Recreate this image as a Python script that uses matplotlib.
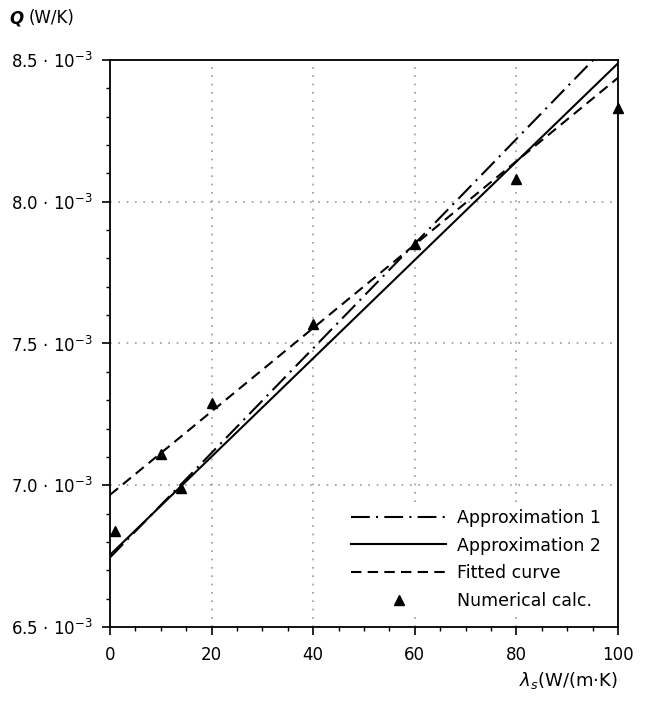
import numpy as np
import matplotlib.pyplot as plt
from matplotlib.ticker import MultipleLocator, FixedLocator

plt.rcParams['font.family'] = ['DejaVu Sans']

# numerical calculation points
lam_num = [1, 10, 14, 20, 40, 60, 80, 100]
q_num = [6.84e-3, 7.11e-3, 6.99e-3, 7.29e-3, 7.57e-3, 7.85e-3, 8.08e-3, 8.33e-3]

# line end points (x = 0 and x = 100)
lam_line = [0, 100]
q_approx1 = [6.745e-3, 8.59e-3]
q_approx2 = [6.754e-3, 8.488e-3]
q_fitted = [6.966e-3, 8.437e-3]

y_ticks = [6.5e-3, 7.0e-3, 7.5e-3, 8.0e-3, 8.5e-3]
y_ticklabels = ['6.5 · 10$^{-3}$', '7.0 · 10$^{-3}$', '7.5 · 10$^{-3}$',
                '8.0 · 10$^{-3}$', '8.5 · 10$^{-3}$']

fig = plt.figure(figsize=(6.45, 7.01), dpi=100)
ax = fig.add_axes([0.1705, 0.1056, 0.7875, 0.8088])

ax.plot(lam_line, q_approx1, color='black', lw=1.5, ls=(0, (9, 3, 1, 3)),
        label='Approximation 1')
ax.plot(lam_line, q_approx2, color='black', lw=1.5, ls='-',
        label='Approximation 2')
ax.plot(lam_line, q_fitted, color='black', lw=1.5, ls=(0, (5, 3)),
        label='Fitted curve')
ax.plot(lam_num, q_num, ls='none', marker='^', color='black', ms=7,
        label='Numerical calc.', clip_on=False, zorder=5)

ax.set_xlim(0, 100)
ax.set_ylim(6.5e-3, 8.5e-3)

ax.xaxis.set_major_locator(MultipleLocator(20))
ax.xaxis.set_minor_locator(MultipleLocator(5))
ax.yaxis.set_major_locator(FixedLocator(y_ticks))
ax.yaxis.set_minor_locator(MultipleLocator(0.1e-3))
ax.set_yticklabels(y_ticklabels)

ax.tick_params(axis='both', which='major', direction='out', length=6,
               width=1.2, labelsize=12, colors='black')
ax.tick_params(axis='both', which='minor', direction='out', length=3,
               width=1.0)
ax.tick_params(axis='x', pad=8)
ax.tick_params(axis='y', pad=6)

for s in ax.spines.values():
    s.set_linewidth(1.3)

ax.grid(True, which='major', color='#999999', ls=(0, (1, 4)), lw=1.2)

fig.text(0.015, 0.974, 'Q', fontsize=12, fontweight='bold', style='italic',
         ha='left', va='center')
fig.text(0.045, 0.974, '(W/K)', fontsize=12, ha='left', va='center')
ax.text(1.0, -0.095, r'$\lambda_s$(W/(m$\cdot$K)', transform=ax.transAxes,
        fontsize=13, ha='right', va='center')

leg = ax.legend(loc='lower right', frameon=True, fontsize=12.5,
                handlelength=5.5, labelspacing=0.55, borderaxespad=0.6,
                handletextpad=0.6)
leg.get_frame().set_edgecolor('none')
leg.get_frame().set_facecolor('white')
leg.get_frame().set_alpha(1.0)

plt.savefig('out.png', dpi=100)
